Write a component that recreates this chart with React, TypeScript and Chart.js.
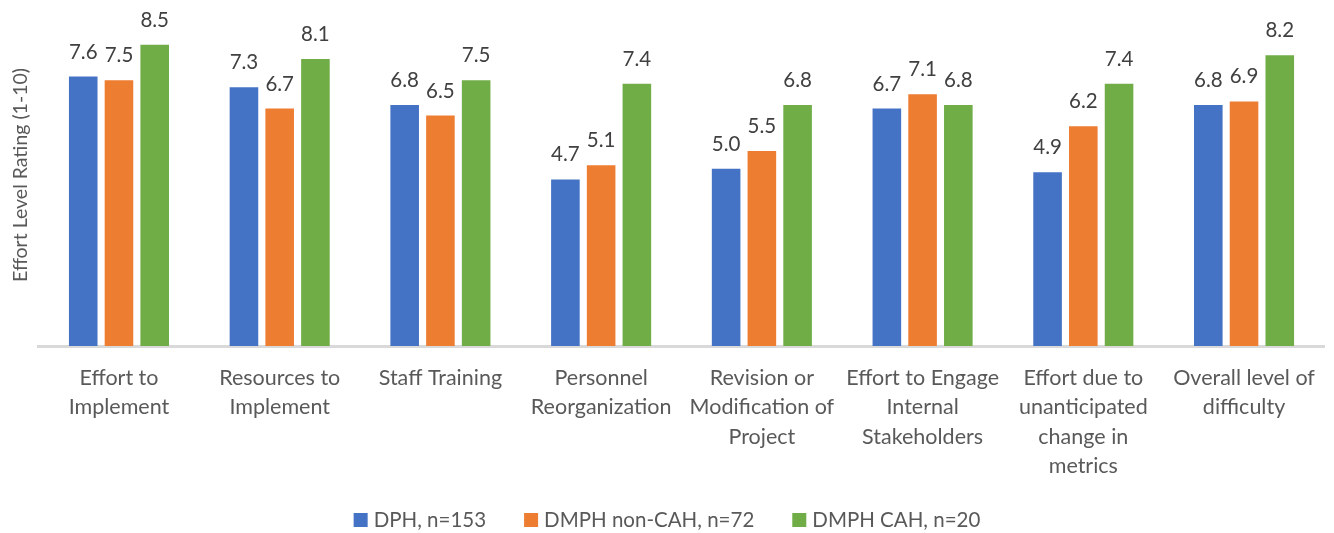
import React, { useEffect, useRef } from "react";
import { Chart, registerables } from "chart.js";

Chart.register(...registerables);

const categories: string[][] = [
  ["Effort to", "Implement"],
  ["Resources to", "Implement"],
  ["Staff Training"],
  ["Personnel", "Reorganization"],
  ["Revision or", "Modification of", "Project"],
  ["Effort to Engage", "Internal", "Stakeholders"],
  ["Effort due to", "unanticipated", "change in", "metrics"],
  ["Overall level of", "difficulty"],
];

const seriesNames = ["DPH, n=153", "DMPH non-CAH, n=72", "DMPH CAH, n=20"];
const dphValues = [7.6, 7.3, 6.8, 4.7, 5.0, 6.7, 4.9, 6.8];
const nonCahValues = [7.5, 6.7, 6.5, 5.1, 5.5, 7.1, 6.2, 6.9];
const cahValues = [8.5, 8.1, 7.5, 7.4, 6.8, 6.8, 7.4, 8.2];
const seriesColors = ["#4472C4", "#ED7D31", "#70AD47"];
const yTitle = "Effort Level Rating (1-10)";

const FONT = "Lato";

const extrasPlugin = {
  id: "extras",
  afterDatasetsDraw(chart: any) {
    const ctx = chart.ctx;
    ctx.save();
    ctx.font = `20.5px ${FONT}`;
    ctx.fillStyle = "#404040";
    ctx.textAlign = "center";
    ctx.textBaseline = "alphabetic";
    chart.data.datasets.forEach((ds: any, di: number) => {
      const meta = chart.getDatasetMeta(di);
      meta.data.forEach((bar: any, i: number) => {
        const v = ds.data[i] as number;
        ctx.fillText(v.toFixed(1), bar.x, bar.y - 18);
      });
    });
    ctx.restore();
  },
  afterDraw(chart: any) {
    const ctx = chart.ctx;
    ctx.save();
    // y axis title
    ctx.font = `19.5px ${FONT}`;
    ctx.fillStyle = "#595959";
    ctx.textAlign = "center";
    ctx.textBaseline = "middle";
    ctx.translate(21, 175);
    ctx.rotate(-Math.PI / 2);
    ctx.fillText(yTitle, 0, 0);
    ctx.restore();

    // legend
    ctx.save();
    ctx.font = `20.5px ${FONT}`;
    ctx.textBaseline = "alphabetic";
    ctx.textAlign = "left";
    const box = 14;
    const gapBoxText = 6;
    const gapItems = 38;
    const widths = seriesNames.map((n) => ctx.measureText(n).width);
    const total =
      widths.reduce((a, w) => a + w + box + gapBoxText, 0) +
      gapItems * (seriesNames.length - 1);
    let x = chart.width / 2 - total / 2;
    const baseY = 527;
    seriesNames.forEach((n, i) => {
      ctx.fillStyle = seriesColors[i];
      ctx.fillRect(x, baseY - box, box, box);
      ctx.fillStyle = "#595959";
      ctx.fillText(n, x + box + gapBoxText, baseY);
      x += box + gapBoxText + widths[i] + gapItems;
    });
    ctx.restore();
  },
};

export default function App() {
  const canvasRef = useRef<HTMLCanvasElement | null>(null);

  useEffect(() => {
    document.body.style.margin = "0";
    const canvas = canvasRef.current;
    if (!canvas) return;
    const chart = new Chart(canvas, {
      type: "bar",
      data: {
        labels: categories,
        datasets: [
          { label: seriesNames[0], data: dphValues, backgroundColor: seriesColors[0] },
          { label: seriesNames[1], data: nonCahValues, backgroundColor: seriesColors[1] },
          { label: seriesNames[2], data: cahValues, backgroundColor: seriesColors[2] },
        ],
      },
      options: {
        responsive: false,
        animation: false,
        devicePixelRatio: 1,
        layout: { padding: { left: 38.6, right: 9.6, top: 27, bottom: 0 } },
        datasets: {
          bar: { categoryPercentage: 0.667, barPercentage: 0.8 },
        },
        plugins: {
          legend: { display: false },
          tooltip: { enabled: false },
        },
        scales: {
          x: {
            grid: { display: false, drawTicks: false },
            border: { display: true, color: "#D9D9D9", width: 3 },
            ticks: {
              color: "#595959",
              font: { family: FONT, size: 21.5, lineHeight: 1.35 },
              padding: 18,
              maxRotation: 0,
              autoSkip: false,
            },
            afterFit: (scale: any) => {
              scale.height = 187;
            },
          },
          y: {
            display: false,
            min: 0,
            max: 9,
          },
        },
      },
      plugins: [extrasPlugin],
    });
    return () => chart.destroy();
  }, []);

  return (
    <div style={{ width: 1334, height: 533, background: "#fff" }}>
      <canvas ref={canvasRef} width={1334} height={533} />
    </div>
  );
}
